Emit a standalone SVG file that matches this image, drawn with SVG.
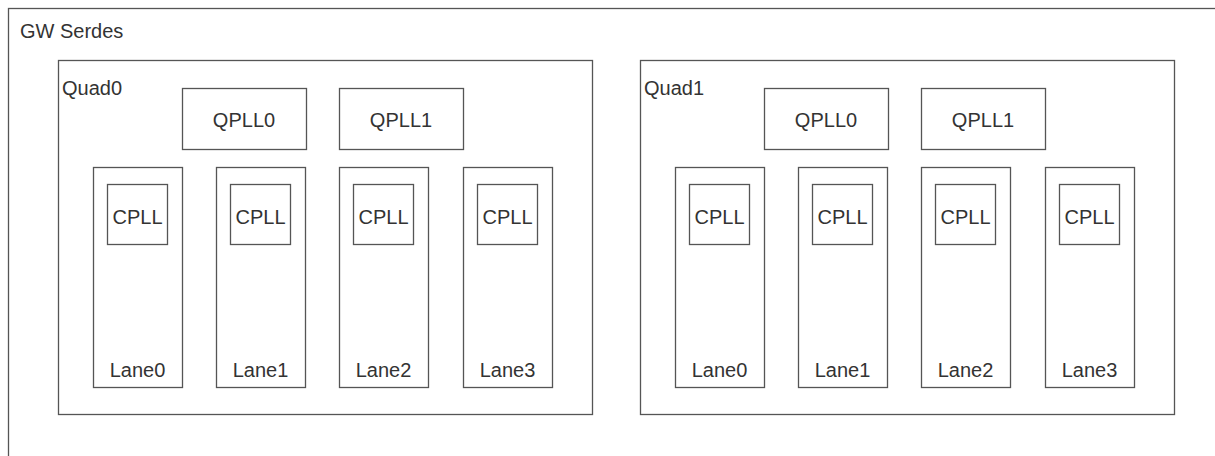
<svg xmlns="http://www.w3.org/2000/svg" width="1215" height="456" viewBox="0 0 1215 456">
<style>
rect{fill:none;stroke:#555;stroke-width:1.3}
text{font-family:"Liberation Sans",Arial,sans-serif;font-size:20px;fill:#333}
.c{text-anchor:middle}
</style>
<rect width="1215" height="456" fill="#fff" style="fill:#fff;stroke:none"/>
<g id="gw-serdes">
<rect x="8.5" y="8.5" width="1212" height="452"/>
<text x="20" y="38">GW Serdes</text>
</g>
<g id="quad0">
<rect x="58.5" y="60.5" width="534" height="354"/>
<text x="62" y="95">Quad0</text>
</g>
<g id="quad0-qpll0"><rect x="182.5" y="88.5" width="124" height="61"/><text class="c" x="244" y="127">QPLL0</text></g>
<g id="quad0-qpll1"><rect x="339.5" y="88.5" width="124" height="61"/><text class="c" x="401" y="127">QPLL1</text></g>
<g id="quad0-lane0"><rect x="93.5" y="167.5" width="89" height="220"/><text class="c" x="137.5" y="377">Lane0</text></g>
<g id="quad0-lane0-cpll"><rect x="107.5" y="184.5" width="60" height="60"/><text class="c" x="137.5" y="224">CPLL</text></g>
<g id="quad0-lane1"><rect x="216.5" y="167.5" width="89" height="220"/><text class="c" x="260.5" y="377">Lane1</text></g>
<g id="quad0-lane1-cpll"><rect x="230.5" y="184.5" width="60" height="60"/><text class="c" x="260.5" y="224">CPLL</text></g>
<g id="quad0-lane2"><rect x="339.5" y="167.5" width="89" height="220"/><text class="c" x="383.5" y="377">Lane2</text></g>
<g id="quad0-lane2-cpll"><rect x="353.5" y="184.5" width="60" height="60"/><text class="c" x="383.5" y="224">CPLL</text></g>
<g id="quad0-lane3"><rect x="463.5" y="167.5" width="89" height="220"/><text class="c" x="507.5" y="377">Lane3</text></g>
<g id="quad0-lane3-cpll"><rect x="477.5" y="184.5" width="60" height="60"/><text class="c" x="507.5" y="224">CPLL</text></g>
<g id="quad1">
<rect x="640.5" y="60.5" width="534" height="354"/>
<text x="644" y="95">Quad1</text>
</g>
<g id="quad1-qpll0"><rect x="764.5" y="88.5" width="124" height="61"/><text class="c" x="826" y="127">QPLL0</text></g>
<g id="quad1-qpll1"><rect x="921.5" y="88.5" width="124" height="61"/><text class="c" x="983" y="127">QPLL1</text></g>
<g id="quad1-lane0"><rect x="675.5" y="167.5" width="89" height="220"/><text class="c" x="719.5" y="377">Lane0</text></g>
<g id="quad1-lane0-cpll"><rect x="689.5" y="184.5" width="60" height="60"/><text class="c" x="719.5" y="224">CPLL</text></g>
<g id="quad1-lane1"><rect x="798.5" y="167.5" width="89" height="220"/><text class="c" x="842.5" y="377">Lane1</text></g>
<g id="quad1-lane1-cpll"><rect x="812.5" y="184.5" width="60" height="60"/><text class="c" x="842.5" y="224">CPLL</text></g>
<g id="quad1-lane2"><rect x="921.5" y="167.5" width="89" height="220"/><text class="c" x="965.5" y="377">Lane2</text></g>
<g id="quad1-lane2-cpll"><rect x="935.5" y="184.5" width="60" height="60"/><text class="c" x="965.5" y="224">CPLL</text></g>
<g id="quad1-lane3"><rect x="1045.5" y="167.5" width="89" height="220"/><text class="c" x="1089.5" y="377">Lane3</text></g>
<g id="quad1-lane3-cpll"><rect x="1059.5" y="184.5" width="60" height="60"/><text class="c" x="1089.5" y="224">CPLL</text></g>
<g id="connectors"></g>
</svg>
